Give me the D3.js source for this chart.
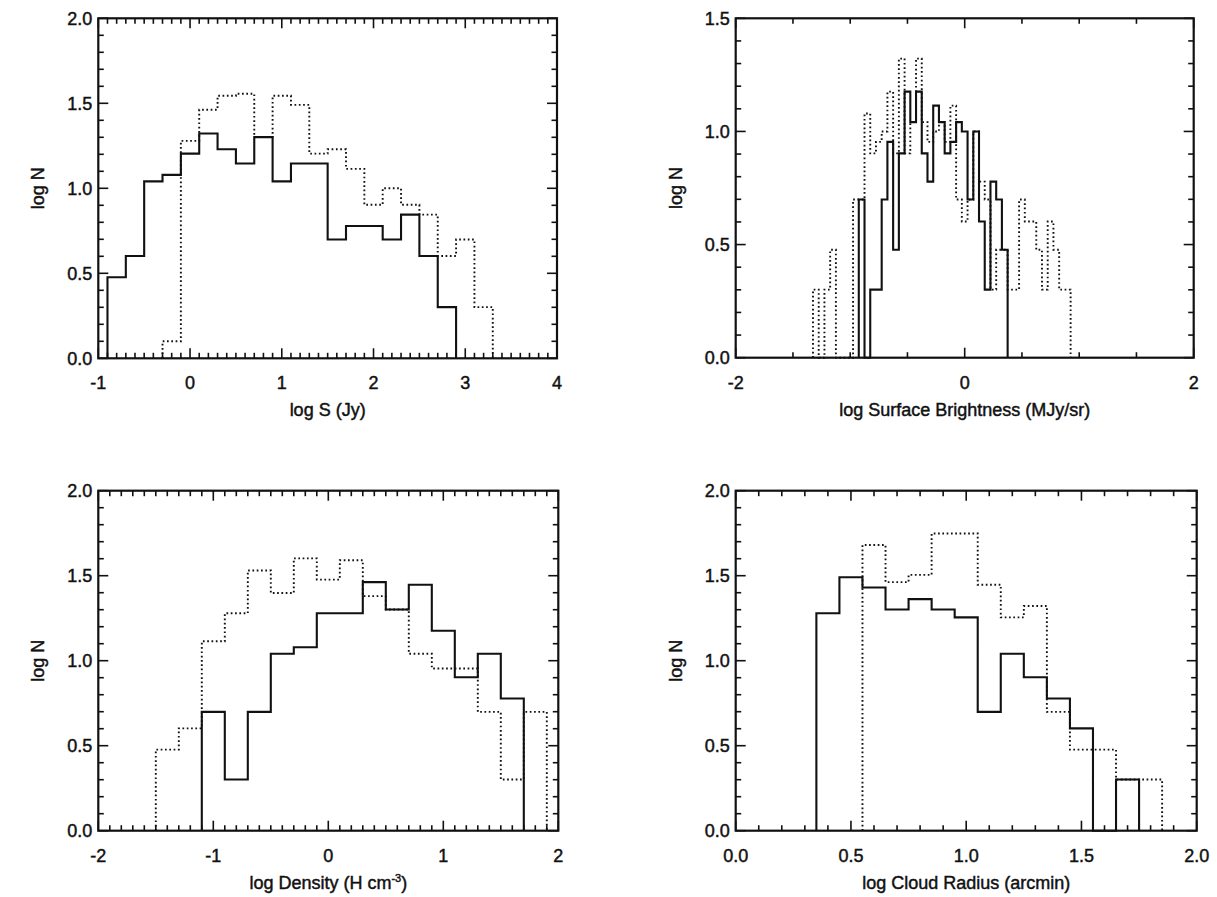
<!DOCTYPE html>
<html><head><meta charset="utf-8">
<script src="https://cdn.jsdelivr.net/npm/d3@7"></script>
<style>
body{margin:0;background:#fff}
text{font-family:"Liberation Sans",Arial,Helvetica,sans-serif;fill:#111;stroke:#111;stroke-width:0.45px}
</style>
</head><body>
<svg id="chart" width="1217" height="897"></svg>
<script>
// ---------------- DATA ----------------
// Top-left: log S (Jy)
const tlSolidEdges = [-0.9,-0.7,-0.5,-0.3,-0.1,0.1,0.3,0.5,0.7,0.9,1.1,1.3,1.5,1.7,1.9,2.1,2.3,2.5,2.7,2.9];
const tlSolid      = [0.477,0.602,1.041,1.079,1.204,1.322,1.230,1.146,1.301,1.041,1.146,1.146,0.699,0.778,0.778,0.699,0.845,0.602,0.301];
const tlDotEdges   = [-0.3,-0.1,0.1,0.3,0.5,0.7,0.9,1.1,1.3,1.5,1.7,1.9,2.1,2.3,2.5,2.7,2.9,3.1,3.3];
const tlDotted     = [0.10,1.279,1.462,1.544,1.556,1.301,1.544,1.491,1.204,1.230,1.114,0.903,1.000,0.903,0.845,0.602,0.699,0.301];

// Top-right: log Surface Brightness (MJy/sr)
const trSolidEdges = [-0.925,-0.875,-0.825,-0.775,-0.725,-0.675,-0.625,-0.575,-0.525,-0.475,-0.425,-0.375,-0.325,-0.275,-0.225,-0.175,-0.125,-0.075,-0.025,0.025,0.075,0.125,0.175,0.225,0.275,0.325,0.375];
const trSolid      = [0.699,0,0.301,0.301,0.699,0.954,0.477,0.903,1.176,1.041,1.176,0.903,0.778,1.114,1.041,0.903,0.954,1.041,1.000,0.699,1.000,0.602,0.301,0.778,0.699,0.477];
const trDotEdges   = [-1.325,-1.275,-1.225,-1.175,-1.125,-1.075,-1.025,-0.975,-0.925,-0.875,-0.825,-0.775,-0.725,-0.675,-0.625,-0.575,-0.525,-0.475,-0.425,-0.375,-0.325,-0.275,-0.225,-0.175,-0.125,-0.075,-0.025,0.025,0.075,0.125,0.175,0.225,0.275,0.325,0.375,0.425,0.475,0.525,0.575,0.625,0.675,0.725,0.775,0.825,0.875,0.925];
const trDotted     = [0.301,0,0.301,0.477,0,0,0,0.699,0.699,1.079,0.903,0.954,1.000,1.176,0.903,1.322,0.903,1.041,1.322,1.041,0.954,1.000,1.041,0.954,1.114,0.699,0.602,0.699,1.000,0.778,0.699,0.301,0.477,0.477,0.301,0.301,0.699,0.602,0.602,0.477,0.301,0.602,0.477,0.301,0.301];

// Bottom-left: log Density
const blSolidEdges = [-1.1,-0.9,-0.7,-0.5,-0.3,-0.1,0.1,0.3,0.5,0.7,0.9,1.1,1.3,1.5,1.7];
const blSolid      = [0.699,0.301,0.699,1.041,1.079,1.279,1.279,1.462,1.301,1.447,1.176,0.903,1.041,0.778];
const blDotEdges   = [-1.5,-1.3,-1.1,-0.9,-0.7,-0.5,-0.3,-0.1,0.1,0.3,0.5,0.7,0.9,1.1,1.3,1.5,1.7,1.9];
const blDotted     = [0.477,0.602,1.114,1.279,1.531,1.398,1.602,1.477,1.591,1.380,1.301,1.041,0.954,0.954,0.699,0.301,0.699];

// Bottom-right: log Cloud Radius
const brSolidEdges = [0.35,0.45,0.55,0.65,0.75,0.85,0.95,1.05,1.15,1.25,1.35,1.45,1.55,1.65,1.75];
const brSolid      = [1.279,1.491,1.431,1.301,1.362,1.301,1.255,0.699,1.041,0.903,0.778,0.602,0,0.301];
const brDotEdges   = [0.55,0.65,0.75,0.85,0.95,1.05,1.15,1.25,1.35,1.45,1.55,1.65,1.75,1.85];
const brDotted     = [1.681,1.462,1.505,1.748,1.748,1.447,1.255,1.322,0.699,0.477,0.477,0.301,0.301];

// Tick labels
const tlXTicks = [-1,0,1,2,3,4],       tlXLabels = ["-1","0","1","2","3","4"];
const trXTicks = [-2,0,2],             trXLabels = ["-2","0","2"];
const blXTicks = [-2,-1,0,1,2],        blXLabels = ["-2","-1","0","1","2"];
const brXTicks = [0,0.5,1,1.5,2],      brXLabels = ["0.0","0.5","1.0","1.5","2.0"];
const yTicks2  = [0,0.5,1,1.5,2],      yLabels2  = ["0.0","0.5","1.0","1.5","2.0"];
const yTicks15 = [0,0.5,1,1.5],        yLabels15 = ["0.0","0.5","1.0","1.5"];

// ---------------- DRAW ----------------
const svg = d3.select("#chart");

const panels = [
  {box:[98.3,557,18.3,358.3], xd:[-1,4], yd:[0,2], xT:tlXTicks, xL:tlXLabels, xMinorStep:0.1,
   yT:yTicks2, yL:yLabels2, xTitle:"log S (Jy)",
   series:[{e:tlSolidEdges,v:tlSolid,dot:false},{e:tlDotEdges,v:tlDotted,dot:true}]},
  {box:[735.7,1193.7,18.3,357.7], xd:[-2,2], yd:[0,1.5], xT:trXTicks, xL:trXLabels, xMinorStep:0.5,
   yT:yTicks15, yL:yLabels15, xTitle:"log Surface Brightness (MJy/sr)",
   series:[{e:trSolidEdges,v:trSolid,dot:false},{e:trDotEdges,v:trDotted,dot:true}]},
  {box:[98.3,558.3,490.7,830.7], xd:[-2,2], yd:[0,2], xT:blXTicks, xL:blXLabels, xMinorStep:0.1,
   yT:yTicks2, yL:yLabels2, xTitle:"density",
   series:[{e:blSolidEdges,v:blSolid,dot:false},{e:blDotEdges,v:blDotted,dot:true}]},
  {box:[735.7,1196.7,490.7,830.7], xd:[0,2], yd:[0,2], xT:brXTicks, xL:brXLabels, xMinorStep:0.1,
   yT:yTicks2, yL:yLabels2, xTitle:"log Cloud Radius (arcmin)",
   series:[{e:brSolidEdges,v:brSolid,dot:false},{e:brDotEdges,v:brDotted,dot:true}]}
];

function stepPoints(edges, vals){
  const pts = [[edges[0],0]];
  vals.forEach((v,i)=>{ pts.push([edges[i],v]); pts.push([edges[i+1],v]); });
  pts.push([edges[edges.length-1],0]);
  return pts;
}

panels.forEach(p=>{
  const [x0,x1,y0,y1] = p.box;
  const x = d3.scaleLinear().domain(p.xd).range([x0,x1]);
  const y = d3.scaleLinear().domain(p.yd).range([y1,y0]);
  const g = svg.append("g");

  // histograms
  const line = d3.line().x(d=>x(d[0])).y(d=>y(d[1]));
  p.series.forEach(s=>{
    g.append("path").attr("d", line(stepPoints(s.e,s.v)))
      .attr("fill","none").attr("stroke","#111")
      .attr("stroke-width", s.dot ? 1.9 : 2.1)
      .attr("stroke-dasharray", s.dot ? "1.7,2.6" : null)
      .attr("stroke-linejoin","miter");
  });

  // ticks
  const eps = 1e-6;
  const xMinor = d3.range(p.xd[0], p.xd[1]+eps, p.xMinorStep).filter(v=>!p.xT.some(t=>Math.abs(t-v)<eps));
  const yMinor = d3.range(p.yd[0], p.yd[1]+eps, 0.1).filter(v=>!p.yT.some(t=>Math.abs(t-v)<eps));
  const tk = g.append("g").attr("stroke","#111").attr("stroke-width",1.6);
  const MJ=10, MN=5.5;
  p.xT.forEach(t=>{
    tk.append("line").attr("x1",x(t)).attr("x2",x(t)).attr("y1",y1).attr("y2",y1-MJ);
    tk.append("line").attr("x1",x(t)).attr("x2",x(t)).attr("y1",y0).attr("y2",y0+MJ);
  });
  xMinor.forEach(t=>{
    tk.append("line").attr("x1",x(t)).attr("x2",x(t)).attr("y1",y1).attr("y2",y1-MN);
    tk.append("line").attr("x1",x(t)).attr("x2",x(t)).attr("y1",y0).attr("y2",y0+MN);
  });
  p.yT.forEach(t=>{
    tk.append("line").attr("y1",y(t)).attr("y2",y(t)).attr("x1",x0).attr("x2",x0+MJ);
    tk.append("line").attr("y1",y(t)).attr("y2",y(t)).attr("x1",x1).attr("x2",x1-MJ);
  });
  yMinor.forEach(t=>{
    tk.append("line").attr("y1",y(t)).attr("y2",y(t)).attr("x1",x0).attr("x2",x0+MN);
    tk.append("line").attr("y1",y(t)).attr("y2",y(t)).attr("x1",x1).attr("x2",x1-MN);
  });

  // frame
  g.append("rect").attr("x",x0).attr("y",y0).attr("width",x1-x0).attr("height",y1-y0)
    .attr("fill","none").attr("stroke","#111").attr("stroke-width",2.2);

  // labels
  p.xT.forEach((t,i)=>{
    g.append("text").attr("x",x(t)).attr("y",y1+31).attr("text-anchor","middle")
      .attr("font-size",18).text(p.xL[i]);
  });
  p.yT.forEach((t,i)=>{
    g.append("text").attr("x",x0-6).attr("y",y(t)+6.5).attr("text-anchor","end")
      .attr("font-size",18).text(p.yL[i]);
  });
  const tt = g.append("text").attr("x",(x0+x1)/2).attr("y",y1+58).attr("text-anchor","middle")
    .attr("font-size",18);
  if(p.xTitle==="density"){
    tt.append("tspan").text("log Density (H cm");
    tt.append("tspan").attr("font-size",11).attr("dy",-7).text("-3");
    tt.append("tspan").attr("dy",7).text(")");
  } else tt.text(p.xTitle);
  g.append("text").attr("transform",`translate(${x0-54},${(y0+y1)/2}) rotate(-90)`)
    .attr("text-anchor","middle").attr("font-size",18).text("log N");
});
</script>
</body></html>
